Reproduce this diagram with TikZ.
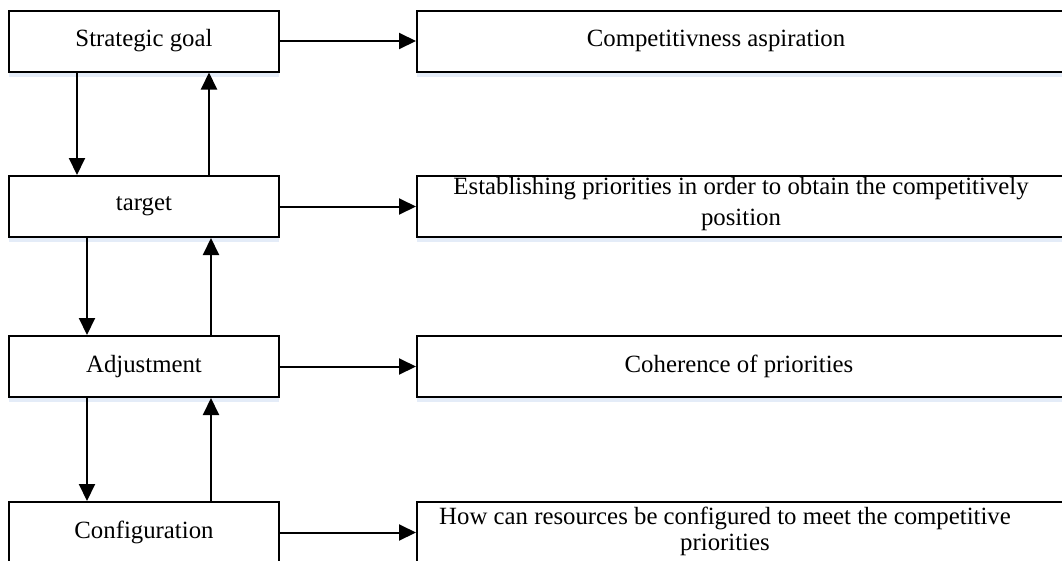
\documentclass[tikz,border=0pt]{standalone}
\usepackage{fontspec}
\setmainfont{Liberation Serif}
\usetikzlibrary{arrows.meta,shadows}
\begin{document}
\begin{tikzpicture}[x=1pt,y=-1pt,
  boxshadow/.style={drop shadow={fill={rgb,255:red,228;green,236;blue,248},opacity=1,shadow xshift=0pt,shadow yshift=-5pt}},
  stage/.style={draw=black,fill=white,line width=2pt,minimum width=270pt,minimum height=61pt,inner sep=0pt,
    font=\fontsize{24.8}{31}\selectfont,boxshadow},
  meaning/.style={draw=black,fill=white,line width=2pt,minimum width=660pt,minimum height=61pt,inner sep=0pt,boxshadow},
  caption/.style={inner sep=0pt,align=center},
  conn/.style={line width=2pt,-{Triangle[length=17pt,width=16pt]}}]
\useasboundingbox (0,0) rectangle (1062,560);

% left column: the four stages
\node[stage] (goal)   at (144,41)    {Strategic goal};
\node[stage] (target) at (144,206.5) {target};
\node[stage] (adj)    at (144,366.5) {Adjustment};
\node[stage] (conf)   at (144,532.5) {Configuration};

% right column: what each stage stands for
\node[meaning] (r1) at (747,41)    {};
\node[meaning] (r2) at (747,206.5) {};
\node[meaning] (r3) at (747,366.5) {};
\node[meaning] (r4) at (747,532.5) {};

\node[caption,font=\fontsize{24.8}{31}\selectfont] (c1) at (r1.center -| 716,0) {Competitivness aspiration};
\node[caption,font=\fontsize{24.8}{31}\selectfont,anchor=north] (c2) at (741,177)
  {Establishing priorities in order to obtain the competitively\\position};
\node[caption,font=\fontsize{24.8}{31}\selectfont] (c3) at (r3.center -| 739,0) {Coherence of priorities};
\node[caption,font=\fontsize{24.8}{26}\selectfont,anchor=north] (c4) at (725,507)
  {How can resources be configured to meet the competitive\\priorities};

% links between a stage and its meaning
\draw[conn] (goal.east)   -- (r1.west);
\draw[conn] (target.east) -- (r2.west);
\draw[conn] (adj.east)    -- (r3.west);
\draw[conn] (conf.east)   -- (r4.west);

% downward and upward links between stages
\draw[conn] ([xshift=69pt]goal.south west)   -- ([xshift=69pt]target.north west);
\draw[conn] ([xshift=201pt]target.north west) -- ([xshift=201pt]goal.south west);
\draw[conn] ([xshift=79pt]target.south west) -- ([xshift=79pt]adj.north west);
\draw[conn] ([xshift=203pt]adj.north west)   -- ([xshift=203pt]target.south west);
\draw[conn] ([xshift=79pt]adj.south west)    -- ([xshift=79pt]conf.north west);
\draw[conn] ([xshift=203pt]conf.north west)  -- ([xshift=203pt]adj.south west);
\end{tikzpicture}
\end{document}
